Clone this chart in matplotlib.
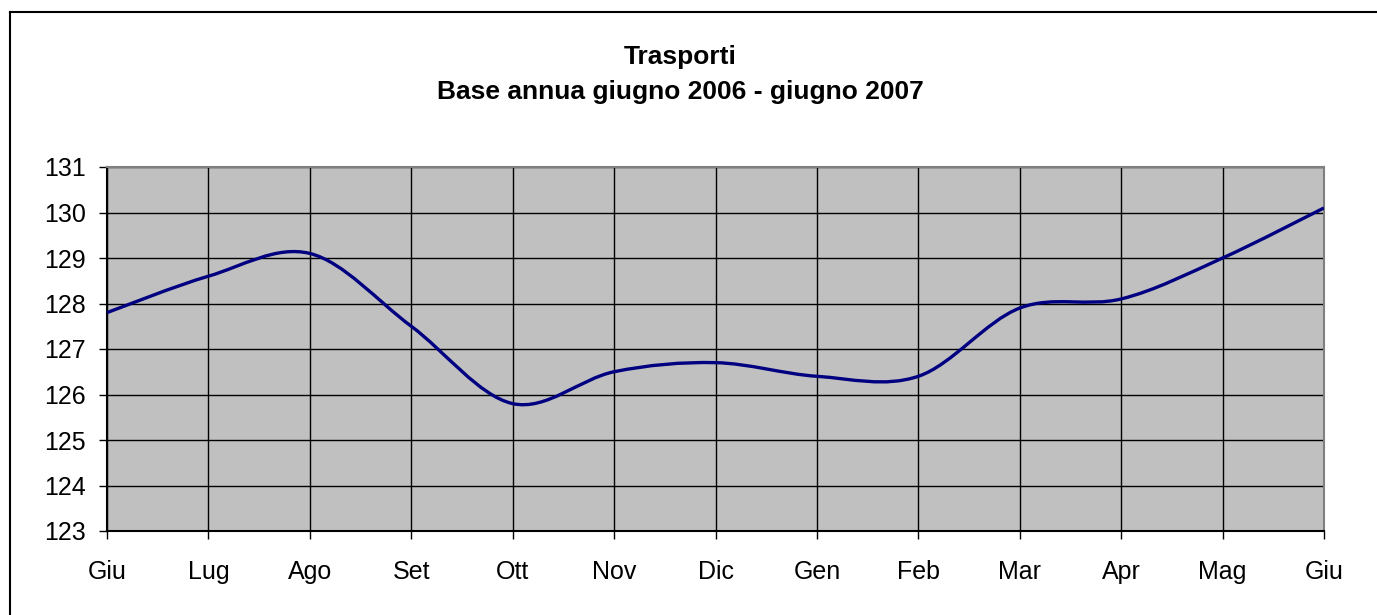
import matplotlib
matplotlib.use("Agg")
import matplotlib.pyplot as plt
import numpy as np
from matplotlib.path import Path
from matplotlib.patches import PathPatch
from matplotlib.lines import Line2D

plt.rcParams['font.family'] = ['Liberation Sans', 'DejaVu Sans']

# Dati
mesi = ['Giu', 'Lug', 'Ago', 'Set', 'Ott', 'Nov', 'Dic', 'Gen', 'Feb', 'Mar', 'Apr', 'Mag', 'Giu']
valori = [127.8, 128.6, 129.1, 127.5, 125.8, 126.5, 126.7, 126.4, 126.4, 127.9, 128.1, 129.0, 130.1]
y_ticks = [123, 124, 125, 126, 127, 128, 129, 130, 131]

W, H = 1377, 615
fig = plt.figure(figsize=(W / 100, H / 100), dpi=100)

# cornice (solo lato sinistro e superiore visibili)
fig.add_artist(Line2D([9.5 / W, 9.5 / W], [0, 1 - 11.5 / H], color='black', linewidth=1.5,
                      transform=fig.transFigure))
fig.add_artist(Line2D([9.5 / W, 1], [1 - 11.5 / H, 1 - 11.5 / H], color='black', linewidth=1.5,
                      transform=fig.transFigure))

ax = fig.add_axes([107 / W, 84 / H, 1217 / W, 364 / H])
ax.set_facecolor('#c0c0c0')

x = np.arange(len(mesi))
y = np.array(valori)

# Curva smussata (stile Excel) con segmenti di Bezier
px = np.concatenate([[x[0]], x, [x[-1]]])
py = np.concatenate([[y[0]], y, [y[-1]]])
verts = [(x[0], y[0])]
codes = [Path.MOVETO]
for i in range(1, len(px) - 2):
    c1 = (px[i] + (px[i + 1] - px[i - 1]) / 6, py[i] + (py[i + 1] - py[i - 1]) / 6)
    c2 = (px[i + 1] - (px[i + 2] - px[i]) / 6, py[i + 1] - (py[i + 2] - py[i]) / 6)
    verts += [c1, c2, (px[i + 1], py[i + 1])]
    codes += [Path.CURVE4] * 3
ax.add_patch(PathPatch(Path(verts, codes), fill=False, edgecolor='#000080', linewidth=2.4, zorder=3))

ax.set_xlim(0, len(mesi) - 1)
ax.set_ylim(123, 131)
ax.set_xticks(x)
ax.set_xticklabels(mesi)
ax.set_yticks(y_ticks)
ax.grid(True, color='black', linewidth=1)
ax.set_axisbelow(True)
ax.tick_params(axis='both', direction='out', length=6, width=1, labelsize=18, color='black')
ax.tick_params(axis='x', pad=15)
ax.tick_params(axis='y', pad=9)

ax.spines['top'].set_color('#808080')
ax.spines['right'].set_color('#808080')
ax.spines['bottom'].set_color('black')
ax.spines['left'].set_color('black')
for s in ax.spines.values():
    s.set_linewidth(1.5)

fig.text(680 / W, 1 - 64 / H, 'Trasporti', ha='center', va='baseline', fontsize=19, fontweight='bold')
fig.text(680 / W, 1 - 99 / H, 'Base annua giugno 2006 - giugno 2007', ha='center', va='baseline',
         fontsize=19, fontweight='bold')

fig.savefig('out.png', dpi=100)
